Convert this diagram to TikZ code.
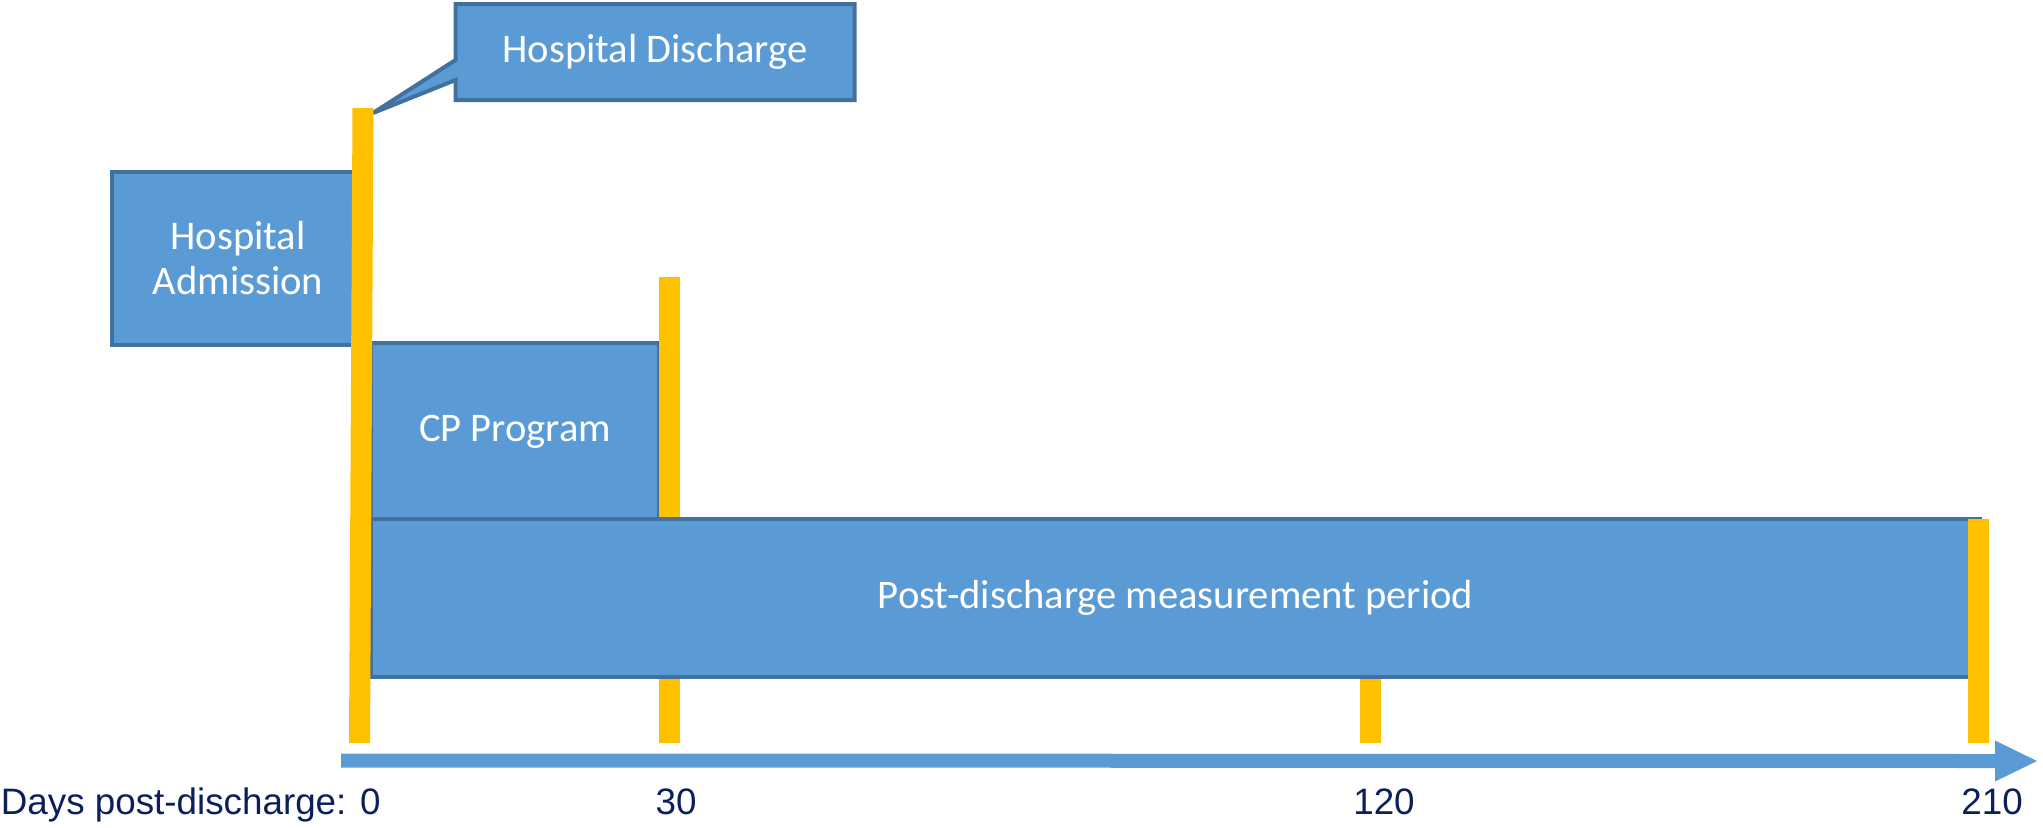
\documentclass[tikz,border=0pt]{standalone}
\usepackage{fontspec}
\setmainfont{Liberation Sans}
\newfontfamily\boxfont{Carlito}
\usetikzlibrary{arrows.meta,backgrounds}
\definecolor{boxBlue}{HTML}{5B9BD5}
\definecolor{boxEdge}{HTML}{41719C}
\definecolor{barGold}{HTML}{FFC000}
\definecolor{dayNavy}{HTML}{0B1F5C}

\begin{document}
\begin{tikzpicture}[
  x=0.5pt, y=-0.5pt,
  period/.style={draw=boxEdge, line width=2pt, fill=boxBlue, text=white,
    font=\boxfont\fontsize{20.3}{22.5}\selectfont, align=center, inner sep=0pt},
  daybar/.style={draw=barGold, line width=10.5pt},
  timeaxis/.style={draw=boxBlue, line width=7pt,
    -{Triangle[length=21pt, width=20.5pt, line width=0pt]}},
  daylab/.style={font=\fontsize{18.4}{20}\selectfont, text=dayNavy, inner sep=0pt, anchor=base}
]
\useasboundingbox (0,0) rectangle (2043,827);
% periods
\node[period, minimum width=126pt, minimum height=86.5pt] (adm) at (238,258.5) {Hospital\\Admission};
\node[period, minimum width=144pt, minimum height=88.5pt] (cp) at (515,431.5) {CP Program};
% day 30 and 120 bars sit behind the measurement period
\draw[daybar] (669.5,277) -- (669.5,743);
\draw[daybar] (1370.5,640) -- (1370.5,743);
\node[period, minimum width=804.5pt, minimum height=79pt] (post) at (1175.5,597.5) {Post-discharge measurement period};
% discharge callout
\node[period, draw=none, fill=none, minimum width=197.5pt, minimum height=46pt] (hd) at (655,52) {Hospital Discharge};
\coordinate (hdtip) at (373,113);
\begin{scope}[on background layer]
\draw[draw=boxEdge, line width=2pt, fill=boxBlue, line join=miter]
  (hd.north west) -- (hd.north east) -- (hd.south east) -- (hd.south west)
  -- ([yshift=-14pt]hd.west) -- (hdtip) -- ([yshift=-4pt]hd.west) -- cycle;
\end{scope}
% day 0 and 210 bars
\draw[daybar] (363,108) -- (359.5,743);
\draw[daybar] (1978.5,519) -- (1978.5,743);
% time axis
\coordinate (axstart) at (341,760.5);
\coordinate (axend) at (2037,761);
\draw[timeaxis] (axstart) -- (axend);
% day labels
\node[daylab, anchor=base east] (d0) at (381,814) {Days post-discharge: 0};
\foreach \x/\t in {676/30, 1384/120, 1992/210}{
  \node[daylab] (d\t) at (\x,814) {\t};
}
\end{tikzpicture}
\end{document}
